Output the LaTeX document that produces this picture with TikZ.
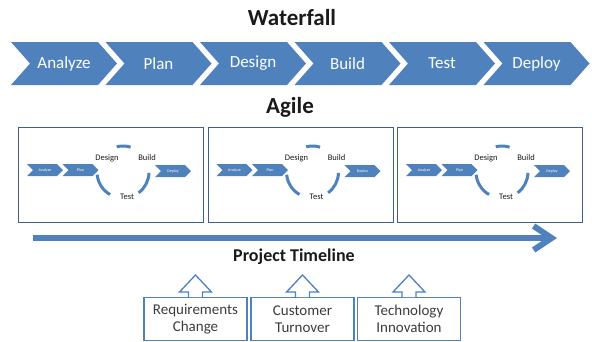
\documentclass[tikz,border=0pt]{standalone}
\usepackage{fontspec}
\setmainfont{Carlito}
\usetikzlibrary{shapes.symbols,arrows.meta}
\definecolor{chevblue}{HTML}{4F81BD}
\definecolor{frameblue}{HTML}{3F5F8F}
\definecolor{ink}{HTML}{1A1A1A}

\begin{document}
\begin{tikzpicture}[x=1pt,y=-1pt,
    every node/.style={font=\fontsize{15}{17}\selectfont, text=ink},
    title/.style={font=\fontsize{23}{27}\selectfont\bfseries},
    bigchev/.style={signal, signal from=west, signal to=east, signal pointer angle=97,
      fill=chevblue, minimum width=106pt, minimum height=43pt, inner sep=0pt,
      text=white, font=\fontsize{17}{20}\selectfont},
    smallchev/.style={signal, signal from=west, signal to=east, signal pointer angle=90,
      fill=chevblue, minimum width=36pt, minimum height=12pt, inner sep=0pt,
      text=white, font=\fontsize{4}{5}\selectfont},
    sprint/.style={draw=frameblue, line width=1.3pt, minimum width=185pt,
      minimum height=95pt, inner sep=0pt},
    cycarc/.style={chevblue, line width=3pt},
    phase/.style={font=\fontsize{8.5}{10}\selectfont},
    timeline/.style={chevblue, line width=6pt, -{Straight Barb[length=18pt,width=24pt]}},
    driver/.style={draw=chevblue, line width=1.3pt, minimum width=103pt,
      minimum height=43pt, align=center, inner sep=0pt, text=ink!85},
    uparrow/.style={draw=chevblue, line width=1.3pt, fill=white}]
  \useasboundingbox (0,0) rectangle (592,341);

  % waterfall row
  \node[title] (wf) at (292,18) {Waterfall};
  \foreach \i/\t in {0/Analyze,1/Plan,2/Design,3/Build,4/Test,5/Deploy}
    \node[bigchev] (w\i) at (64+94.5*\i,63.5) {\t};

  % agile sprints
  \node[title] (ag) at (290,107) {Agile};
  \foreach \i/\x in {1/18,2/207.5,3/397} {
    \node[sprint, anchor=north west] (s\i) at (\x,127) {};
    \node[smallchev] (a\i) at (\x+27,170) {Analyze};
    \node[smallchev] (p\i) at (\x+62.5,170) {Plan};
    \node[smallchev] (y\i) at (\x+155,171) {Deploy};
    \coordinate (c\i) at (\x+105,172);               % cycle centre
    \draw[cycarc] (c\i) ++(73:26pt) arc[start angle=73, end angle=104, radius=26pt];
    \draw[cycarc] (c\i) ++(186:26pt) arc[start angle=186, end angle=240, radius=26pt];
    \draw[cycarc] (c\i) ++(-2:26pt) arc[start angle=-2, end angle=-53, radius=26pt];
    \node[phase] (d\i) at (\x+89,158) {Design};
    \node[phase] (b\i) at (\x+129,158) {Build};
    \node[phase] (t\i) at (\x+109,197) {Test};
  }

  % timeline
  \coordinate (tl0) at (33,238);
  \coordinate (tl1) at (557,238);
  \draw[timeline] (tl0) -- (tl1);
  \node[font=\fontsize{18}{22}\selectfont\bfseries] (pt) at (294,257) {Project Timeline};

  % change drivers
  \foreach \i/\x/\t in {1/195.5/{Requirements\\Change},2/302.5/{Customer\\Turnover},
                        3/409/{Technology\\Innovation}} {
    \node[driver, anchor=north] (r\i) at (\x,297) {\t};
    \draw[uparrow] (r\i.north) ++(-7,0) -- ++(0,-5) -- ++(-9,0) -- ++(16,-17)
      -- ++(16,17) -- ++(-9,0) -- ++(0,5);
  }
\end{tikzpicture}
\end{document}
